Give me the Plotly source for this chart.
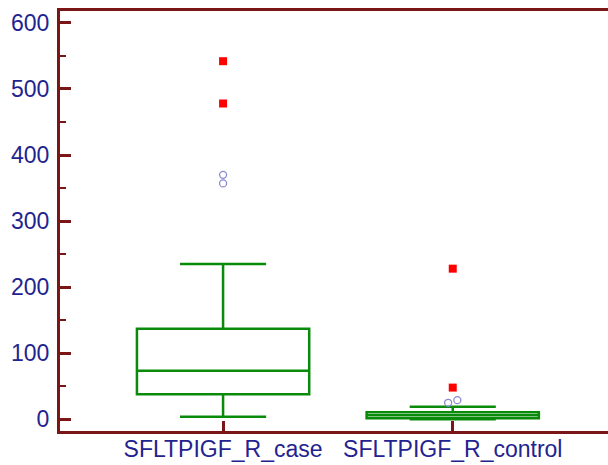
import plotly.graph_objects as go

categories = ["SFLTPIGF_R_case", "SFLTPIGF_R_control"]
q1 = [38, 1.5]
median = [73.5, 6]
q3 = [137, 10.5]
lower_whisker = [4, 0]
upper_whisker = [235, 19]
far_outliers_group = [0, 0, 1, 1]
far_outliers_y = [542, 478, 228, 48]
near_outliers_group = [0, 0, 1, 1]
near_outliers_y = [370, 357, 25, 29]
near_outliers_jitter = [0, 0, -0.02, 0.02]
y_ticks = [0, 100, 200, 300, 400, 500, 600]

axis_color = "#7a1616"
label_color = "#23238f"
green = "#0a8a0a"

positions = list(range(len(categories)))

fig = go.Figure()
fig.add_trace(go.Box(
    x=positions, q1=q1, median=median, q3=q3,
    lowerfence=lower_whisker, upperfence=upper_whisker,
    width=0.75, whiskerwidth=0.5,
    line=dict(color=green, width=2.5),
    fillcolor="rgba(0,0,0,0)",
    boxpoints=False, showlegend=False, hoverinfo="skip",
))
fig.add_trace(go.Scatter(
    x=far_outliers_group, y=far_outliers_y, mode="markers",
    marker=dict(symbol="square", size=8, color="#ff0000"),
    showlegend=False,
))
fig.add_trace(go.Scatter(
    x=[g + j for g, j in zip(near_outliers_group, near_outliers_jitter)],
    y=near_outliers_y, mode="markers",
    marker=dict(symbol="circle-open", size=7, color="#8a8ad0", line=dict(width=1.3)),
    showlegend=False,
))

fig.update_layout(
    width=608, height=465,
    margin=dict(l=60, r=0, t=11, b=34),
    plot_bgcolor="white", paper_bgcolor="white",
    font=dict(family="Liberation Sans, Arial", size=23, color=label_color),
    xaxis=dict(
        range=[-0.71, 1.676], automargin=False,
        tickvals=positions, ticktext=categories,
        showline=True, linecolor=axis_color, linewidth=3, mirror=True,
        ticks="inside", ticklen=10, tickwidth=2.5, tickcolor=axis_color,
        showgrid=False, zeroline=False,
        tickfont=dict(size=23, color=label_color),
        ticklabelstandoff=-5,
    ),
    yaxis=dict(
        range=[-17.7, 618], automargin=False,
        tickvals=y_ticks,
        showline=True, linecolor=axis_color, linewidth=3,
        ticks="inside", ticklen=11, tickwidth=2.5, tickcolor=axis_color,
        minor=dict(ticks="inside", ticklen=6, tickwidth=2, tickcolor=axis_color,
                   tickvals=[50, 150, 250, 350, 450, 550], showgrid=False),
        showgrid=False, zeroline=False,
        tickfont=dict(size=23, color=label_color),
        ticklabelstandoff=3,
    ),
)

fig.write_html("out.html")
